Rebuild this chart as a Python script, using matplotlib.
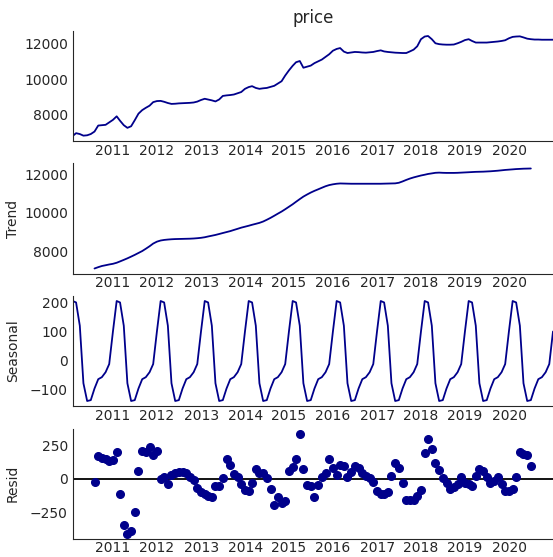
import numpy as np
import pandas as pd
import matplotlib
matplotlib.use("Agg")
import matplotlib.pyplot as plt
import matplotlib.dates as mdates
import seaborn as sns

# ---------------------------------------------------------------------------
# Data (monthly, month-end, Jan 2010 .. Dec 2020)
# ---------------------------------------------------------------------------
dates = pd.date_range("2010-01-31", "2020-12-31", freq="ME")

price = [
    6790, 6950, 6900, 6810, 6830, 6900, 7040, 7380, 7400, 7420, 7560, 7700,
    7900, 7650, 7400, 7250, 7340, 7680, 8050, 8250, 8380, 8500, 8700, 8760,
    8770, 8720, 8650, 8600, 8610, 8630, 8640, 8650, 8660, 8680, 8730, 8820,
    8890, 8850, 8800, 8740, 8850, 9050, 9080, 9100, 9130, 9200, 9270, 9450,
    9550, 9600, 9500, 9450, 9480, 9500, 9560, 9620, 9750, 9880, 10200, 10490,
    10750, 10950, 11020, 10640, 10700, 10760, 10900, 11000, 11100, 11250, 11400, 11600,
    11700, 11750, 11550, 11470, 11500, 11530, 11520, 11500, 11490, 11510, 11530, 11580,
    11620, 11560, 11530, 11510, 11490, 11480, 11470, 11470, 11560, 11660, 11850, 12250,
    12400, 12430, 12250, 12020, 11970, 11950, 11940, 11940, 11950, 12020, 12100, 12200,
    12250, 12150, 12060, 12060, 12060, 12060, 12080, 12100, 12120, 12150, 12190, 12300,
    12380, 12400, 12410, 12350, 12280, 12250, 12230, 12230, 12220, 12220, 12220, 12220,
]

# trend / resid exist from the 7th to the 126th month (centered 12-month window)
trend = [
    7100, 7170, 7230, 7270, 7310, 7345,
    7400, 7470, 7550, 7630, 7720, 7810, 7910, 8010, 8130, 8260, 8400, 8500,
    8560, 8590, 8610, 8625, 8635, 8640, 8645, 8650, 8655, 8665, 8680, 8700,
    8730, 8770, 8810, 8850, 8900, 8950, 9000, 9050, 9110, 9170, 9230, 9280,
    9330, 9380, 9430, 9480, 9550, 9640, 9740, 9850, 9960, 10070, 10190, 10320,
    10450, 10580, 10720, 10850, 10960, 11060, 11150, 11230, 11310, 11390, 11450, 11490,
    11520, 11535, 11530, 11525, 11520, 11520, 11520, 11520, 11520, 11520, 11520, 11520,
    11520, 11525, 11530, 11535, 11540, 11570, 11640, 11720, 11790, 11850, 11900, 11950,
    11990, 12030, 12060, 12090, 12100, 12090, 12085, 12085, 12085, 12090, 12100, 12110,
    12120, 12130, 12140, 12145, 12150, 12160, 12170, 12185, 12200, 12220, 12240, 12255,
    12270, 12285, 12295, 12305, 12310, 12315,
]

resid = [
    -20, 170, 155, 145, 135, 142,
    200, -110, -338, -404, -387, -248, 61, 206, 200, 238, 176, 208,
    -2, 12, -37, 29, 46, 54, 54, 42, 12, -7, -69, -100,
    -110, -125, -135, -51, -51, 5, 145, 103, 37, 17, -37, -81,
    -93, -27, 74, 42, 42, 5, -76, -196, -135, -179, -167, 61,
    91, 145, 336, 71, -44, -51, -135, -44, 12, 46, 145, 78,
    29, 103, 96, 17, 54, 96, 78, 42, 22, 5, -20, -86,
    -110, -110, -100, 22, 115, 78, -27, -154, -154, -154, -125, -81,
    189, 294, 225, 120, 66, 5, -27, -76, -61, -37, 17, -32,
    -37, -51, 22, 71, 61, 17, -27, -12, 12, -37, -93, -86,
    -76, 12, 200, 184, 176, 96,
]

# one seasonal cycle (Jan..Dec), repeated every year
seasonal_cycle = [205, 200, 120, -78, -139, -136, -96, -64, -57, -40, -12, 100]
seasonal = np.tile(seasonal_cycle, len(dates) // 12)

tr_dates = dates[6:6 + len(trend)]

# ---------------------------------------------------------------------------
# Plot
# ---------------------------------------------------------------------------
sns.set_style("white")
plt.rcParams["font.family"] = ["DejaVu Sans"]

color = "darkblue"
W, H = 553, 557
fig = plt.figure(figsize=(W / 100, H / 100), dpi=100)

left = 72.7 / W
tops = [31, 163.5, 296, 428.5]
h = 110
axes = [fig.add_axes([left, 1 - (t + h) / H, 1 - left, h / H]) for t in tops]

xlim = (dates[0], dates[-1])
lw = 1.3

axes[0].plot(dates, price, color=color, lw=lw)
axes[0].set_title("price")

axes[1].plot(tr_dates, trend, color=color, lw=lw)
axes[1].set_ylabel("Trend")

axes[2].plot(dates, seasonal, color=color, lw=lw)
axes[2].set_ylabel("Seasonal")

axes[3].plot(tr_dates, resid, marker="o", markersize=5.5, linestyle="none", color=color)
axes[3].plot(xlim, (0, 0), color="#000000", lw=lw, zorder=-3)
axes[3].set_ylabel("Resid")

axes[0].set_yticks([8000, 10000, 12000])
axes[1].set_yticks([8000, 10000, 12000])
axes[2].set_yticks([-100, 0, 100, 200])
axes[3].set_yticks([-250, 0, 250])

for ax in axes:
    ax.set_xlim(xlim)
    ax.xaxis.set_major_locator(mdates.YearLocator())
    ax.xaxis.set_major_formatter(mdates.DateFormatter("%Y"))
    ax.tick_params(length=0)
    ax.tick_params(axis="x", pad=2)
    ax.yaxis.set_label_coords(-0.11, 0.5)
    sns.despine(ax=ax)

fig.savefig("out.png", dpi=100)
